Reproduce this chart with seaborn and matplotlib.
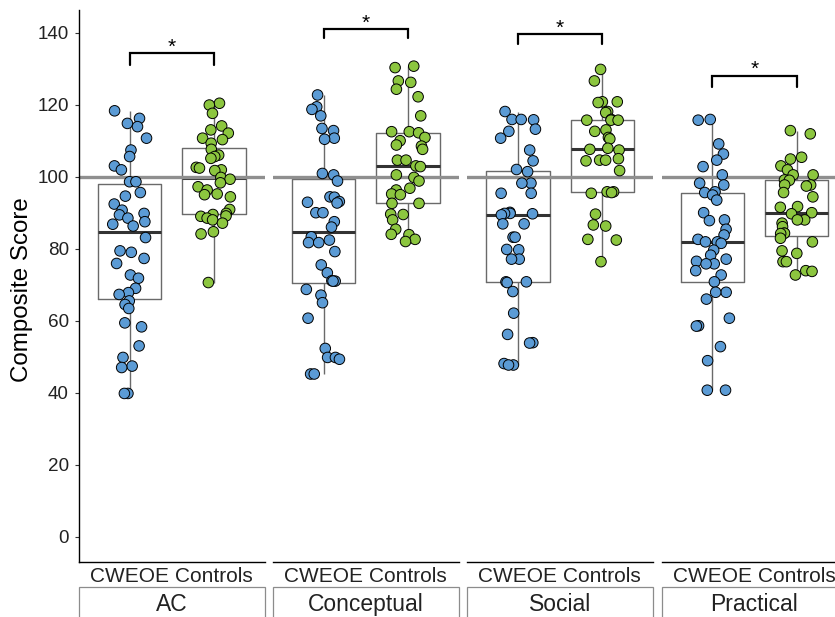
import numpy as np
import pandas as pd
import matplotlib
matplotlib.use("Agg")
import matplotlib.pyplot as plt
from matplotlib.patches import Rectangle
import seaborn as sns

# ---- data -------------------------------------------------------------
domains = ["AC", "Conceptual", "Social", "Practical"]
groups = ["CWEOE", "Controls"]

ac_cweoe = [118.3, 116.2, 114.8, 113.9, 110.7, 107.4, 105.6, 103.0, 101.9, 98.6,
            98.6, 95.6, 94.6, 92.4, 90.7, 89.8, 89.4, 88.5, 87.5, 86.8, 86.3,
            83.1, 79.4, 79.0, 77.3, 75.9, 72.7, 71.8, 69.0, 67.8, 67.3, 65.5,
            64.5, 63.4, 59.4, 58.3, 53.0, 49.8, 47.4, 47.0, 39.8, 39.8]
ac_controls = [120.4, 119.9, 117.6, 114.1, 113.0, 112.1, 110.7, 110.3, 109.3,
               107.6, 106.0, 105.6, 105.1, 102.6, 102.4, 101.9, 101.7, 99.8,
               99.3, 98.3, 97.2, 96.3, 95.2, 95.0, 94.4, 90.9, 89.8, 89.5, 89.1,
               89.0, 88.5, 88.0, 87.1, 84.7, 84.1, 70.6]
conceptual_cweoe = [122.7, 119.4, 118.7, 116.9, 113.4, 112.8, 110.7, 110.4,
                    100.9, 100.5, 98.8, 94.4, 94.3, 93.1, 92.9, 92.7, 90.0, 90.0,
                    87.5, 86.0, 83.3, 82.4, 81.7, 81.7, 79.2, 75.5, 73.3, 71.1,
                    71.0, 71.0, 68.7, 67.1, 65.0, 60.7, 52.3, 49.8, 49.8, 49.3,
                    45.2, 45.2]
conceptual_controls = [130.7, 130.3, 126.6, 126.2, 124.3, 122.2, 116.9, 112.5,
                       112.5, 112.2, 110.9, 110.0, 108.8, 108.5, 107.6, 104.6,
                       104.6, 103.0, 102.8, 100.5, 99.8, 98.8, 96.8, 96.3, 95.2,
                       95.0, 92.6, 92.6, 89.6, 89.5, 88.0, 85.4, 84.0, 83.9,
                       82.6, 82.0]
social_cweoe = [118.1, 115.9, 115.9, 115.8, 113.2, 112.6, 110.7, 107.4, 104.4,
                102.0, 101.4, 98.2, 98.2, 95.4, 95.4, 90.1, 89.8, 89.8, 89.7,
                89.4, 86.9, 86.9, 83.2, 83.2, 79.8, 79.7, 77.1, 77.1, 70.8, 70.8,
                70.6, 68.1, 62.1, 56.2, 53.9, 53.8, 48.1, 47.7, 47.7]
social_controls = [129.8, 126.6, 120.8, 120.8, 120.6, 118.1, 117.8, 115.9,
                   115.7, 115.7, 115.7, 113.0, 112.6, 110.9, 110.5, 107.9, 107.6,
                   107.4, 105.0, 104.6, 104.6, 104.4, 101.7, 95.8, 95.8, 95.6,
                   95.4, 89.6, 86.6, 86.3, 82.6, 82.4, 76.4]
practical_cweoe = [115.9, 115.7, 109.1, 106.3, 104.6, 102.8, 100.5, 98.2, 97.7,
                   95.8, 95.6, 94.9, 93.5, 90.0, 88.0, 87.8, 85.4, 83.8, 82.6,
                   81.9, 81.9, 81.5, 79.6, 78.2, 77.1, 76.5, 75.8, 75.8, 73.9,
                   72.7, 70.8, 67.9, 67.9, 66.0, 60.7, 58.6, 58.5, 52.8, 48.9,
                   40.7, 40.7]
practical_controls = [112.8, 111.9, 105.4, 104.9, 103.0, 101.9, 100.5, 100.5,
                      99.1, 99.0, 97.7, 97.7, 97.4, 95.6, 94.4, 91.7, 91.5, 90.0,
                      89.7, 88.0, 88.0, 87.1, 86.1, 84.3, 84.3, 84.2, 82.9, 81.9,
                      79.4, 78.7, 76.4, 76.4, 73.9, 73.7, 72.7]

# significance brackets: (bracket top, bracket tip) per domain
bracket_top = [134.3, 141.0, 139.6, 128.0]
bracket_tip = [131.0, 138.4, 136.8, 125.0]
sig_label = "*"

reference_score = 100
y_ticks = [0, 20, 40, 60, 80, 100, 120, 140]

scores = {
    ("AC", "CWEOE"): ac_cweoe, ("AC", "Controls"): ac_controls,
    ("Conceptual", "CWEOE"): conceptual_cweoe,
    ("Conceptual", "Controls"): conceptual_controls,
    ("Social", "CWEOE"): social_cweoe, ("Social", "Controls"): social_controls,
    ("Practical", "CWEOE"): practical_cweoe,
    ("Practical", "Controls"): practical_controls,
}
df = pd.DataFrame(
    [(d, g, v) for (d, g), vals in scores.items() for v in vals],
    columns=["domain", "group", "score"],
)

# ---- style ------------------------------------------------------------
sns.set_style("white")
plt.rcParams["font.family"] = ["Liberation Sans", "DejaVu Sans"]
palette = {"CWEOE": "#5B9BD5", "Controls": "#8CC63F"}
text_col = "#222222"

W, H = 835, 617
fig = plt.figure(figsize=(W / 100, H / 100), dpi=100)

panel_left, panel_step, panel_w = 79, 194.2, 185.5
panel_top, panel_bottom = 10, 562.3

np.random.seed(7)
for i, dom in enumerate(domains):
    ax = fig.add_axes([(panel_left + i * panel_step) / W, 1 - panel_bottom / H,
                       panel_w / W, (panel_bottom - panel_top) / H])
    sub = df[df["domain"] == dom]

    sns.boxplot(data=sub, x="group", y="score", order=groups, width=0.75,
                fill=False, color="#6a6a6a", linewidth=1.0, showfliers=False,
                showcaps=False,
                medianprops=dict(color="#333333", linewidth=2.2),
                ax=ax)
    ax.axhline(reference_score, color="#8f8f8f", lw=2.4, zorder=2.5)
    sns.stripplot(data=sub, x="group", y="score", order=groups, hue="group",
                  hue_order=groups, palette=palette, jitter=0.21, size=7.6,
                  linewidth=0.7, edgecolor="black", legend=False, zorder=3,
                  ax=ax)

    # significance bracket
    ax.plot([0, 0, 1, 1], [bracket_tip[i], bracket_top[i], bracket_top[i],
                           bracket_tip[i]],
            color="black", lw=1.6, zorder=4, clip_on=False,
            solid_joinstyle="miter")
    ax.text(0.5, bracket_top[i] + 0.2, sig_label, ha="center", va="baseline",
            fontsize=15, color="black")

    ax.set_xlim(-0.6, 1.6)
    ax.set_ylim(-7.1, 146.3)
    ax.set_xlabel("")
    ax.set_ylabel("")
    for side in ["top", "right"]:
        ax.spines[side].set_visible(False)
    ax.spines["bottom"].set_color("black")
    ax.spines["bottom"].set_linewidth(1.0)
    ax.tick_params(axis="x", length=2.8, width=0.8, color="#333333", pad=0.8,
                   labelsize=15, labelcolor=text_col)
    if i == 0:
        ax.spines["left"].set_color("black")
        ax.spines["left"].set_linewidth(1.0)
        ax.set_yticks(y_ticks)
        ax.tick_params(axis="y", length=2.8, width=0.8, color="#333333",
                       pad=4.4, labelsize=13.6, labelcolor=text_col, left=True)
    else:
        ax.spines["left"].set_visible(False)
        ax.set_yticks([])

    # facet strip below the axis
    strip_top = -(587 - panel_bottom) / (panel_bottom - panel_top)
    ax.add_patch(Rectangle((0, strip_top - 0.15), 1, 0.15,
                           transform=ax.transAxes, clip_on=False,
                           facecolor="white", edgecolor="#8c8c8c", lw=0.9))
    ax.text(0.5, -(611.2 - panel_bottom) / (panel_bottom - panel_top), dom,
            transform=ax.transAxes, ha="center", va="baseline",
            fontsize=16.5, color=text_col)

fig.text(22 / W, 1 - 290 / H, "Composite Score", rotation=90, ha="center",
         va="center", fontsize=17.4, color="black")

fig.savefig("out.png", dpi=100)
